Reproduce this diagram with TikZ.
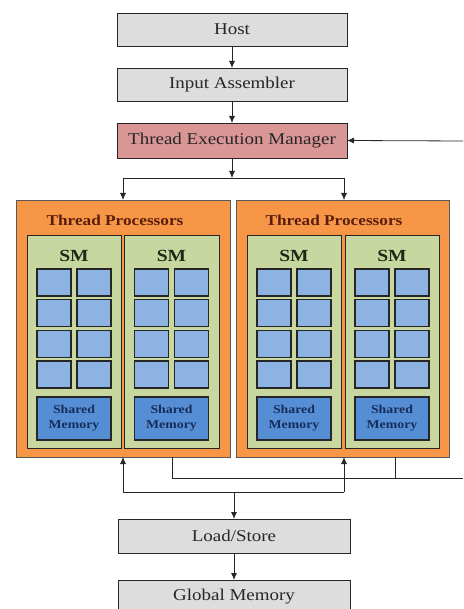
\documentclass[tikz,border=0pt]{standalone}
\usepackage{fontspec}
\setmainfont{Liberation Serif}[FakeStretch=1.15]
\usetikzlibrary{arrows.meta}
\definecolor{boxgray}{RGB}{221,221,221}
\definecolor{tempink}{RGB}{217,150,148}
\definecolor{tporange}{RGB}{247,150,70}
\definecolor{smgreen}{RGB}{200,215,160}
\definecolor{cellblue}{RGB}{141,179,226}
\definecolor{shblue}{RGB}{85,142,213}
\definecolor{tptext}{RGB}{90,30,15}
\definecolor{smtext}{RGB}{30,40,20}
\definecolor{shtext}{RGB}{23,45,90}
\tikzset{
  base/.style={draw=black!85, line width=0.9pt, inner sep=0pt, outer sep=0pt},
  graybox/.style={base, fill=boxgray, minimum width=230pt, minimum height=33pt, font=\fontsize{16.5}{18}\selectfont, text=black!85},
  tpbox/.style={base, draw=black!65, fill=tporange, minimum width=213pt, minimum height=257pt},
  smbox/.style={base, fill=smgreen, minimum width=94pt, minimum height=213pt},
  cell/.style={base, line width=1.3pt, fill=cellblue, minimum width=34pt, minimum height=27pt},
  shmem/.style={base, line width=1.3pt, fill=shblue, minimum width=74pt, minimum height=43pt, align=center, font=\bfseries\fontsize{12}{15}\selectfont, text=shtext},
  tptitle/.style={font=\bfseries\fontsize{15}{17}\selectfont, text=tptext},
  smtitle/.style={font=\bfseries\fontsize{17}{19}\selectfont, text=smtext},
  conn/.style={draw=black!85, line width=0.8pt},
  arr/.style={conn, -{Latex[length=7pt,width=6pt]}}
}
\begin{document}
\begin{tikzpicture}[x=1pt,y=-1pt]
\useasboundingbox (0,0) rectangle (463,609);
% top chain
\node[graybox] (host) at (232,29.5) {Host};
\node[graybox] (ia) at (232,84.5) {Input Assembler};
\node[graybox, fill=tempink, minimum height=35pt] (tem) at (232,140.5) {Thread Execution Manager};
% thread processors
\node[tpbox, minimum width=214pt] (tpl) at (123,328.5) {};
\node[tpbox] (tpr) at (342.5,328.5) {};
\node[tptitle] (tplt) at (115,220) {Thread Processors};
\node[tptitle] (tprt) at (334,220) {Thread Processors};
% SMs
\foreach \name/\cx/\w in {sma/74/94, smb/171.5/95, smc/294/94, smd/392/94}{
  \node[smbox, minimum width=\w pt] (\name) at (\cx,341.5) {};
  \node[smtitle] (\name t) at (\cx,256) {SM};
  \foreach \r/\ry in {1/282.5, 2/313.2, 3/343.8, 4/374.5}{
    \node[cell] (\name c\r a) at (\cx-20,\ry) {};
    \node[cell] (\name c\r b) at (\cx+20,\ry) {};
  }
  \node[shmem] (\name m) at (\cx,418.5) {Shared\\Memory};
}
% bottom chain
\node[graybox, minimum width=232pt, minimum height=34pt] (ls) at (234,536) {Load/Store};
\node[graybox, minimum width=232pt, minimum height=34pt] (gm) at (234,597) {Global Memory};
% coordinates
\coordinate (fbin) at (463,141);
\coordinate (split) at (232,178);
\coordinate (splitl) at (123,178);
\coordinate (splitr) at (344,178);
\coordinate (join) at (234,492);
\coordinate (joinl) at (123,492);
\coordinate (joinr) at (344,492);
\coordinate (fbl) at (172,478);
\coordinate (fbr) at (395,478);
\coordinate (fbout) at (463,478);
% connectors
\draw[arr] (host) -- (ia);
\draw[arr] (ia) -- (tem);
\draw[arr] (fbin) -- (tem.east);
\draw[arr] (tem.south) -- (split);
\draw[conn] (splitl) -- (splitr);
\draw[arr] (splitl) -- (splitl |- tpl.north);
\draw[arr] (splitr) -- (splitr |- tpr.north);
\draw[conn] (joinl) -- (joinr);
\draw[arr] (joinl) -- (joinl |- tpl.south);
\draw[arr] (joinr) -- (joinr |- tpr.south);
\draw[arr] (join) -- (ls);
\draw[arr] (ls) -- (gm);
\draw[conn] (fbl |- tpl.south) -- (fbl) -- (fbout);
\draw[conn] (fbr |- tpr.south) -- (fbr);
\end{tikzpicture}
\end{document}
